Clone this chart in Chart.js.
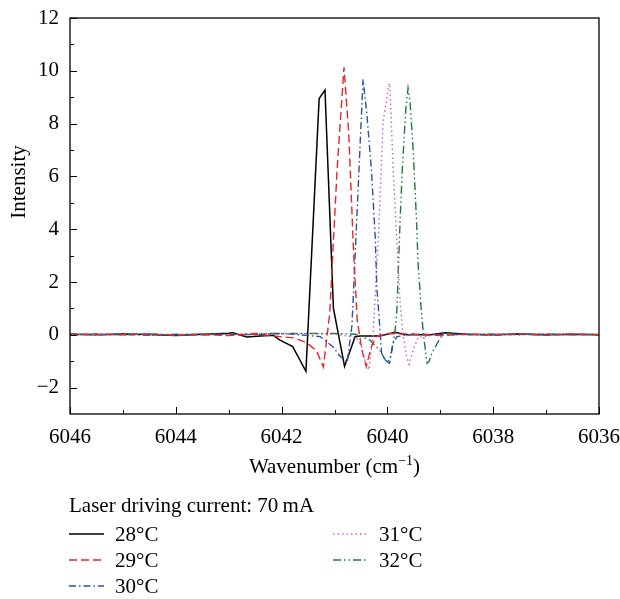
<!DOCTYPE html>
<html>
<head>
<meta charset="utf-8">
<script src="https://cdn.jsdelivr.net/npm/chart.js@4.4.1/dist/chart.umd.min.js"></script>
<style>
  html, body { margin: 0; padding: 0; background: #fff; }
  #wrap { position: relative; width: 620px; height: 599px; font-family: "Liberation Serif", "DejaVu Serif", serif; color: #000; overflow: hidden; }
  #wrap canvas { position: absolute; left: 0; top: 0; }
  .txt { position: absolute; font-size: 21px; line-height: 24px; white-space: nowrap; }
  .txt sup { font-size: 14px; line-height: 0; vertical-align: 8px; }
  .sw { position: absolute; }
</style>
</head>
<body>
<div id="wrap">
  <canvas id="c" width="620" height="599"></canvas>
</div>
<script>
// ---- data ----
const seriesLabels = ['28°C', '29°C', '30°C', '31°C', '32°C'];

const wn28 = [6046, 6045.5, 6045, 6044.5, 6044, 6043.5, 6043, 6042.92, 6042.66, 6042.4, 6042.16, 6042.03, 6041.79, 6041.54, 6041.29, 6041.18, 6041.02, 6040.81, 6040.61, 6040.52, 6040.39, 6040.14, 6039.86, 6039.64, 6039.19, 6038.91, 6038.5, 6038, 6037.5, 6037, 6036.5, 6036];
const int28 = [0.02, 0.0, 0.03, 0.01, -0.03, 0.02, 0.06, 0.08, -0.08, -0.05, -0.02, -0.2, -0.45, -1.38, 8.95, 9.27, 1.0, -1.2, -0.07, -0.05, -0.05, -0.05, 0.1, 0.0, 0.0, 0.08, 0.02, 0.0, 0.03, 0.0, 0.02, 0.0];

const wn29 = [6046, 6045.5, 6045, 6044.5, 6044, 6043.5, 6043, 6042.5, 6042.03, 6041.75, 6041.53, 6041.34, 6041.21, 6041.09, 6040.95, 6040.82, 6040.73, 6040.64, 6040.57, 6040.48, 6040.40, 6040.31, 6040.22, 6040, 6039.5, 6039, 6038.5, 6038, 6037.5, 6037, 6036.5, 6036];
const int29 = [0.0, 0.02, 0.0, 0.03, -0.02, 0.0, -0.03, 0.03, -0.07, -0.12, -0.3, -0.6, -1.22, 0.8, 6.3, 10.13, 7.6, 3.15, 0.55, -0.6, -1.2, -0.5, -0.08, 0.05, 0.02, -0.03, 0.02, 0.0, 0.03, -0.02, 0.03, 0.0];

const wn30 = [6046, 6045.5, 6045, 6044.5, 6044, 6043.5, 6043, 6042.5, 6042, 6041.65, 6041.27, 6041.03, 6040.90, 6040.76, 6040.67, 6040.46, 6040.39, 6040.30, 6040.23, 6040.20, 6040.14, 6040.11, 6040.05, 6039.96, 6039.89, 6039.82, 6039.5, 6039, 6038.5, 6038, 6037.5, 6037, 6036.5, 6036];
const int30 = [0.03, 0.0, 0.02, -0.02, 0.02, 0.0, 0.03, 0.0, 0.05, 0.0, -0.07, -0.45, -0.8, -1.05, 0.35, 9.68, 8.4, 6.2, 3.7, 1.8, 0.18, -0.7, -0.95, -1.08, -0.32, -0.07, 0.03, 0.0, 0.02, -0.02, 0.03, 0.0, 0.02, 0.0];

const wn31 = [6046, 6045.5, 6045, 6044.5, 6044, 6043.5, 6043, 6042.5, 6042, 6041.5, 6041, 6040.58, 6040.49, 6040.42, 6040.35, 6040.27, 6040.17, 6040.08, 6039.97, 6039.95, 6039.89, 6039.76, 6039.70, 6039.64, 6039.59, 6039.51, 6039.42, 6039, 6038.5, 6038, 6037.5, 6037, 6036.5, 6036];
const int31 = [0.0, 0.03, 0.0, 0.02, 0.0, 0.03, 0.0, 0.05, 0.03, 0.05, 0.02, -0.1, -0.45, -1.0, -1.33, 0.05, 3.7, 8.1, 9.53, 9.3, 6.2, 1.2, -0.07, -0.8, -1.12, -0.55, -0.1, 0.03, 0.0, 0.03, 0.0, 0.04, 0.0, 0.03];

const wn32 = [6046, 6045.5, 6045, 6044.5, 6044, 6043.5, 6043, 6042.5, 6042, 6041.5, 6041, 6040.6, 6040.33, 6040.14, 6040.01, 6039.95, 6039.86, 6039.82, 6039.76, 6039.72, 6039.68, 6039.65, 6039.61, 6039.57, 6039.51, 6039.45, 6039.42, 6039.36, 6039.32, 6039.29, 6039.25, 6039.21, 6039.16, 6039.04, 6038.94, 6038.5, 6038, 6037.5, 6037, 6036.5, 6036];
const int32 = [0.0, 0.03, 0.0, 0.03, 0.0, 0.03, 0.0, 0.05, 0.05, 0.05, 0.05, 0.02, -0.2, -0.6, -1.05, -0.9, 0.05, 0.94, 4.35, 6.2, 7.6, 8.6, 9.34, 8.77, 6.9, 4.35, 2.7, 0.94, 0.05, -0.45, -1.08, -1.0, -0.7, -0.26, 0.05, 0.0, 0.03, 0.0, 0.03, 0.0, 0.02];

const xTickValues = [6046, 6044, 6042, 6040, 6038, 6036];
const xMinorValues = [6045, 6043, 6041, 6039, 6037];
const yTickValues = [-2, 0, 2, 4, 6, 8, 10, 12];
const yMinorValues = [-1, 1, 3, 5, 7, 9, 11];

// ---- styles ----
const styles = [
  { color: '#000000', dash: [], width: 1.5 },
  { color: '#e8262b', dash: [8, 4], width: 1.4 },
  { color: '#2f50a6', dash: [7, 3, 1.5, 3], width: 1.4 },
  { color: '#d062be', dash: [1.5, 3], width: 1.4 },
  { color: '#1f7b3d', dash: [8, 3, 1.5, 3, 1.5, 3], width: 1.4 }
];
const wns = [wn28, wn29, wn30, wn31, wn32];
const ints = [int28, int29, int30, int31, int32];

const FONT = { family: '"Liberation Serif", "DejaVu Serif", serif', size: 21 };

const datasets = seriesLabels.map((lab, i) => ({
  label: lab,
  data: wns[i].map((w, k) => ({ x: w, y: ints[i][k] })),
  borderColor: styles[i].color,
  borderDash: styles[i].dash,
  borderWidth: styles[i].width,
  pointRadius: 0,
  tension: 0,
  fill: false
}));
const ordered = [datasets[1], datasets[2], datasets[3], datasets[4], datasets[0]];

const frameTicks = {
  id: 'frameTicks',
  afterDatasetsDraw(chart) {
    const { ctx, chartArea: a, scales: { x, y } } = chart;
    ctx.save();
    ctx.strokeStyle = '#000';
    ctx.lineWidth = 1.3;
    ctx.strokeRect(a.left, a.top, a.right - a.left, a.bottom - a.top);
    ctx.beginPath();
    xTickValues.forEach(v => { const p = Math.round(x.getPixelForValue(v)) + 0.5; ctx.moveTo(p, a.bottom); ctx.lineTo(p, a.bottom - 7); });
    xMinorValues.forEach(v => { const p = Math.round(x.getPixelForValue(v)) + 0.5; ctx.moveTo(p, a.bottom); ctx.lineTo(p, a.bottom - 4); });
    yTickValues.forEach(v => { const p = Math.round(y.getPixelForValue(v)) + 0.5; ctx.moveTo(a.left, p); ctx.lineTo(a.left + 7, p); });
    yMinorValues.forEach(v => { const p = Math.round(y.getPixelForValue(v)) + 0.5; ctx.moveTo(a.left, p); ctx.lineTo(a.left + 4, p); });
    ctx.lineWidth = 1;
    ctx.stroke();
    ctx.restore();
  }
};

const chart = new Chart(document.getElementById('c'), {
  type: 'line',
  data: { datasets: ordered },
  options: {
    responsive: false,
    animation: false,
    events: [],
    layout: { padding: { left: 0, right: 21, top: 18, bottom: 0 } },
    plugins: { legend: { display: false }, tooltip: { enabled: false } },
    scales: {
      x: {
        type: 'linear', reverse: true, min: 6036, max: 6046,
        afterBuildTicks: s => { s.ticks = xTickValues.map(v => ({ value: v })); },
        afterFit: s => { s.height = 185; s.paddingLeft = 0; s.paddingRight = 0; },
        ticks: { callback: v => String(v), font: FONT, color: '#000', padding: 11, maxRotation: 0, autoSkip: false },
        grid: { display: false, drawTicks: false },
        border: { display: false }
      },
      y: {
        type: 'linear', min: -3, max: 12,
        afterBuildTicks: s => { s.ticks = yTickValues.map(v => ({ value: v })); },
        afterFit: s => { s.width = 70; s.paddingTop = 0; s.paddingBottom = 0; },
        ticks: { callback: v => (v < 0 ? '\u2212' + Math.abs(v) : String(v)), font: FONT, color: '#000', padding: 11, autoSkip: false },
        grid: { display: false, drawTicks: false },
        border: { display: false }
      }
    }
  },
  plugins: [frameTicks]
});

// ---- HTML texts: axis titles and legend ----
const wrap = document.getElementById('wrap');
const xt = document.createElement('div');
xt.className = 'txt';
xt.style.left = '70px'; xt.style.width = '529px'; xt.style.textAlign = 'center'; xt.style.top = '454px';
xt.innerHTML = 'Wavenumber (cm<sup>\u22121</sup>)';
wrap.appendChild(xt);

const yt = document.createElement('div');
yt.className = 'txt';
yt.style.left = '-42px'; yt.style.width = '120px'; yt.style.textAlign = 'center'; yt.style.top = '170px';
yt.style.transform = 'rotate(-90deg)';
yt.textContent = 'Intensity';
wrap.appendChild(yt);

const lt = document.createElement('div');
lt.className = 'txt';
lt.style.left = '69px'; lt.style.top = '493px';
lt.textContent = 'Laser driving current: 70\u2009mA';
wrap.appendChild(lt);

const legendPos = [
  { lx: 69, tx: 115, cy: 534 },
  { lx: 69, tx: 115, cy: 560 },
  { lx: 69, tx: 115, cy: 586 },
  { lx: 333, tx: 379, cy: 534 },
  { lx: 333, tx: 379, cy: 560 }
];
seriesLabels.forEach((lab, i) => {
  const p = legendPos[i];
  const svgNS = 'http://www.w3.org/2000/svg';
  const svg = document.createElementNS(svgNS, 'svg');
  svg.setAttribute('width', '36'); svg.setAttribute('height', '6');
  svg.setAttribute('class', 'sw');
  svg.style.left = p.lx + 'px'; svg.style.top = (p.cy - 3) + 'px';
  const ln = document.createElementNS(svgNS, 'line');
  ln.setAttribute('x1', '0'); ln.setAttribute('x2', '35'); ln.setAttribute('y1', '3'); ln.setAttribute('y2', '3');
  ln.setAttribute('stroke', styles[i].color); ln.setAttribute('stroke-width', styles[i].width);
  if (styles[i].dash.length) ln.setAttribute('stroke-dasharray', styles[i].dash.join(' '));
  svg.appendChild(ln);
  wrap.appendChild(svg);
  const t = document.createElement('div');
  t.className = 'txt';
  t.style.left = p.tx + 'px'; t.style.top = (p.cy - 12) + 'px';
  t.textContent = lab;
  wrap.appendChild(t);
});
</script>
</body>
</html>
